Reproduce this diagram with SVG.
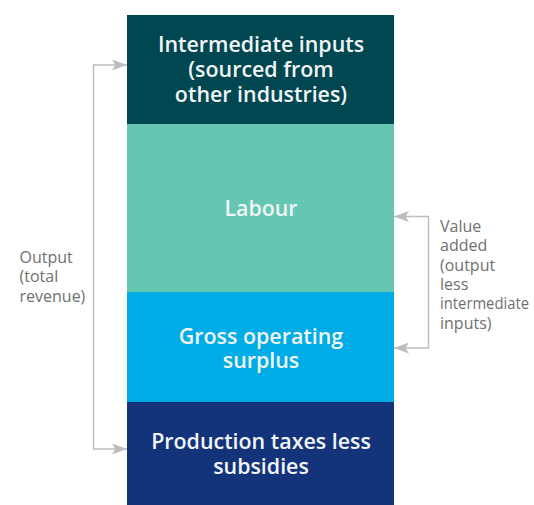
<svg xmlns="http://www.w3.org/2000/svg" width="534" height="505" viewBox="0 0 534 505">
  <defs>
    <style>
      .box-label { font-family: "Open Sans", "Liberation Sans", sans-serif; font-size: 21.4px; font-weight: 600; fill: #F2F5F5; text-anchor: middle; }
      .side-label { font-family: "Open Sans", "Liberation Sans", sans-serif; font-size: 16px; fill: #707070; }
      .bracket { fill: none; stroke: #BDBDBD; stroke-width: 1.5; }
    </style>
    <marker id="arrow" viewBox="0 0 15 11" refX="15" refY="5.5" markerWidth="15" markerHeight="11" markerUnits="userSpaceOnUse" orient="auto-start-reverse">
      <path d="M0,0 L15,5.5 L0,11 L3.5,5.5 Z" fill="#BDBDBD"/>
    </marker>
  </defs>
  <rect width="534" height="505" fill="#FFFFFF"/>

  <g id="intermediate-inputs">
    <rect x="127" y="15" width="267" height="109" fill="#004751"/>
    <text class="box-label" x="261" y="51.5">Intermediate inputs</text>
    <text class="box-label" x="261" y="76.5">(sourced from</text>
    <text class="box-label" x="261" y="101.5">other industries)</text>
  </g>

  <g id="labour">
    <rect x="127" y="124" width="267" height="168" fill="#64C6B3"/>
    <text class="box-label" x="261" y="216">Labour</text>
  </g>

  <g id="gross-operating-surplus">
    <rect x="127" y="292" width="267" height="110" fill="#00ACE6"/>
    <text class="box-label" x="261" y="343.5">Gross operating</text>
    <text class="box-label" x="261" y="368">surplus</text>
  </g>

  <g id="production-taxes">
    <rect x="127" y="402" width="267" height="103" fill="#13347A"/>
    <text class="box-label" x="261" y="448.5">Production taxes less</text>
    <text class="box-label" x="261" y="473.5">subsidies</text>
  </g>

  <g id="connectors">
    <path class="bracket" d="M127,65 H93.5 V449 H127" marker-start="url(#arrow)" marker-end="url(#arrow)"/>
    <path class="bracket" d="M394,216.5 H428.5 V348 H394" marker-start="url(#arrow)" marker-end="url(#arrow)"/>
  </g>

  <g id="output-label">
    <text class="side-label" x="19.5" y="262.5">Output</text>
    <text class="side-label" x="19.5" y="282">(total</text>
    <text class="side-label" x="19.5" y="301.5">revenue)</text>
  </g>

  <g id="value-added-label">
    <text class="side-label" x="440" y="232">Value</text>
    <text class="side-label" x="440" y="251.3">added</text>
    <text class="side-label" x="440" y="270.6">(output</text>
    <text class="side-label" x="440" y="289.9">less</text>
    <text class="side-label" x="440" y="309.2" textLength="89" lengthAdjust="spacingAndGlyphs">intermediate</text>
    <text class="side-label" x="440" y="328.5">inputs)</text>
  </g>
</svg>
